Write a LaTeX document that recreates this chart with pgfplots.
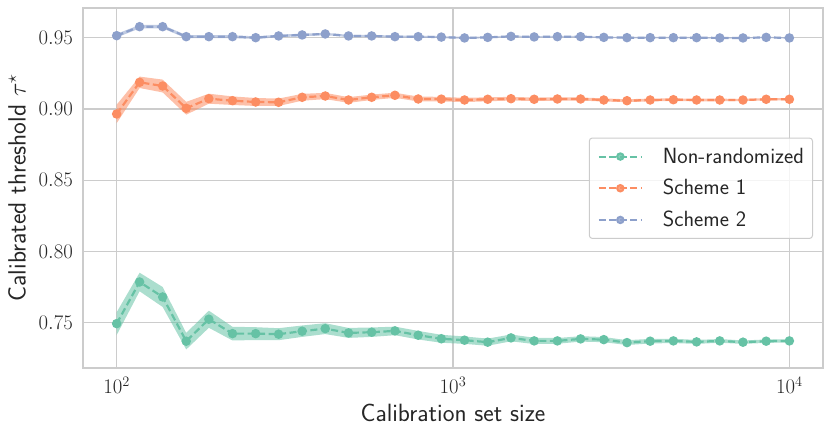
\documentclass[border=0pt]{standalone}
\usepackage{pgfplots}
\pgfplotsset{compat=1.18}
\usepackage{pgfplotstable}
\usepgfplotslibrary{fillbetween}
\definecolor{cgreen}{HTML}{66C2A5}
\definecolor{corange}{HTML}{FC8D62}
\definecolor{cblue}{HTML}{8DA0CB}
\definecolor{ctext}{HTML}{262626}
\definecolor{cgrid}{HTML}{CCCCCC}

\pgfplotstableread{
x y e
100 0.7495 0.0080
117 0.7787 0.0065
137 0.7682 0.0070
161 0.7372 0.0058
188 0.7526 0.0060
221 0.7425 0.0048
259 0.7425 0.0045
303 0.7421 0.0042
356 0.7442 0.0040
417 0.7460 0.0038
489 0.7430 0.0035
573 0.7435 0.0033
672 0.7444 0.0030
788 0.7414 0.0030
923 0.7389 0.0028
1082 0.7379 0.0026
1268 0.7365 0.0025
1487 0.7395 0.0024
1743 0.7374 0.0022
2043 0.7374 0.0020
2395 0.7388 0.0019
2807 0.7383 0.0018
3290 0.7362 0.0017
3856 0.7372 0.0016
4520 0.7374 0.0015
5298 0.7367 0.0014
6210 0.7374 0.0013
7279 0.7365 0.0012
8531 0.7372 0.0012
10000 0.7374 0.0011
}\green

\pgfplotstableread{
x y e
100 0.8965 0.0065
117 0.9187 0.0040
137 0.9161 0.0045
161 0.9005 0.0045
188 0.9072 0.0035
221 0.9058 0.0030
259 0.9049 0.0028
303 0.9047 0.0026
356 0.9082 0.0024
417 0.9091 0.0022
489 0.9063 0.0020
573 0.9082 0.0019
672 0.9096 0.0018
788 0.9070 0.0017
923 0.9069 0.0016
1082 0.9063 0.0015
1268 0.9068 0.0014
1487 0.9072 0.0013
1743 0.9068 0.0012
2043 0.9070 0.0012
2395 0.9070 0.0011
2807 0.9063 0.0011
3290 0.9058 0.0010
3856 0.9063 0.0010
4520 0.9065 0.0009
5298 0.9063 0.0009
6210 0.9063 0.0009
7279 0.9063 0.0008
8531 0.9068 0.0008
10000 0.9068 0.0008
}\orange

\pgfplotstableread{
x y e
100 0.9514 0.0013
117 0.9577 0.0012
137 0.9577 0.0012
161 0.9507 0.0011
188 0.9507 0.0010
221 0.9507 0.0010
259 0.9500 0.0009
303 0.9512 0.0009
356 0.9519 0.0009
417 0.9526 0.0008
489 0.9512 0.0008
573 0.9512 0.0008
672 0.9507 0.0007
788 0.9507 0.0007
923 0.9504 0.0007
1082 0.9498 0.0007
1268 0.9502 0.0006
1487 0.9509 0.0006
1743 0.9505 0.0006
2043 0.9507 0.0006
2395 0.9507 0.0006
2807 0.9502 0.0005
3290 0.9500 0.0005
3856 0.9500 0.0005
4520 0.9500 0.0005
5298 0.9500 0.0005
6210 0.9498 0.0005
7279 0.9498 0.0005
8531 0.9502 0.0005
10000 0.9498 0.0005
}\blue

\begin{document}
\begin{tikzpicture}
\begin{axis}[
  name=ax,
  scale only axis,
  width=740pt, height=360pt,
  xmode=log,
  xmin=79.43, xmax=12589,
  ymin=0.7184, ymax=0.9708,
  xtick={100,1000,10000},
  ytick={0.75,0.80,0.85,0.90,0.95},
  y tick label style={/pgf/number format/fixed, /pgf/number format/fixed zerofill, /pgf/number format/precision=2},
  major tick length=0pt, minor tick length=0pt,
  grid=major,
  major grid style={draw=cgrid, line width=1.1pt},
  axis line style={draw=cgrid, line width=1.3pt},
  tick label style={font=\fontsize{21}{25}\selectfont, text=ctext},
  yticklabel style={inner sep=0pt, xshift=-10pt},
  xticklabel style={inner sep=0pt, anchor=base, yshift=-26pt},
  xlabel={\sffamily Calibration set size},
  ylabel={\sffamily Calibrated threshold $\tau^\star$},
  label style={font=\fontsize{25}{30}\selectfont, text=ctext},
  xlabel style={at={(axis description cs:0.5,0)}, anchor=base, yshift=-54pt},
  ylabel style={at={(axis description cs:-0.0892,0.5)}, anchor=center},
  legend style={at={(0.9865,0.4993)}, anchor=east, draw=cgrid, line width=1pt, rounded corners=3pt,
    fill=white, fill opacity=0.8, text opacity=1, text=ctext,
    font=\sffamily\fontsize{22}{26}\selectfont,
    inner xsep=8.5pt, inner ysep=9pt,
    row sep=12.7pt,
    nodes={inner sep=0pt, text height=16pt, text depth=3pt}},
  legend cell align=left,
  legend image code/.code={\draw[#1,line width=2pt,mark size=3.2pt,mark repeat=2,mark phase=2] plot coordinates {(0pt,0pt)(21.5pt,0pt)(43pt,0pt)};},
  /tikz/every odd column/.append style={column sep=20pt},
  every axis plot/.append style={line width=2.2pt, dash pattern=on 7pt off 3.5pt, mark=*, mark size=3.6pt},
]
% bands
\addplot[name path=gu, draw=none, no marks, forget plot] table[x=x, y expr=\thisrow{y}+\thisrow{e}] {\green};
\addplot[name path=gl, draw=none, no marks, forget plot] table[x=x, y expr=\thisrow{y}-\thisrow{e}] {\green};
\addplot[fill=cgreen, fill opacity=0.55, draw=none, forget plot] fill between[of=gu and gl];
\addplot[name path=ou, draw=none, no marks, forget plot] table[x=x, y expr=\thisrow{y}+\thisrow{e}] {\orange};
\addplot[name path=ol, draw=none, no marks, forget plot] table[x=x, y expr=\thisrow{y}-\thisrow{e}] {\orange};
\addplot[fill=corange, fill opacity=0.55, draw=none, forget plot] fill between[of=ou and ol];
\addplot[name path=bu, draw=none, no marks, forget plot] table[x=x, y expr=\thisrow{y}+\thisrow{e}] {\blue};
\addplot[name path=bl, draw=none, no marks, forget plot] table[x=x, y expr=\thisrow{y}-\thisrow{e}] {\blue};
\addplot[fill=cblue, fill opacity=0.55, draw=none, forget plot] fill between[of=bu and bl];
% lines
\addplot[color=cgreen, mark options={solid, fill=cgreen, draw=cgreen}] table[x=x,y=y] {\green};
\addlegendentry{Non-randomized}
\addplot[color=corange, mark options={solid, fill=corange, draw=corange}] table[x=x,y=y] {\orange};
\addlegendentry{Scheme 1}
\addplot[color=cblue, mark options={solid, fill=cblue, draw=cblue}] table[x=x,y=y] {\blue};
\addlegendentry{Scheme 2}
\end{axis}
\pgfresetboundingbox
\path[use as bounding box] ([xshift=-83pt,yshift=-67pt]ax.south west) rectangle ([xshift=8pt,yshift=8pt]ax.north east);
\end{tikzpicture}
\end{document}
